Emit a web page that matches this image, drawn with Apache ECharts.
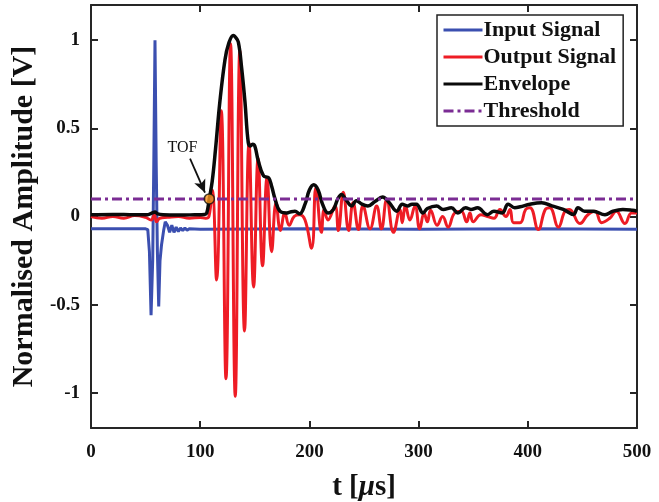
<!DOCTYPE html>
<html><head><meta charset="utf-8">
<script src="https://cdn.jsdelivr.net/npm/echarts@6/dist/echarts.min.js"></script>
<style>html,body{margin:0;padding:0;background:#fff}#c{width:659px;height:502px}</style>
</head><body><div id="c"></div>
<script>
// ---- data (t in microseconds, normalised amplitude in V) ----
const inputSignal = [
  [0,-0.07],[50,-0.07],[52,-0.075],[53.5,-0.2],[55,-0.56],[56.5,-0.25],[57.5,0.3],[58.6,1.0],
  [59.7,0.3],[60.8,-0.2],[62,-0.51],[63.2,-0.25],[64.6,-0.16],[66.5,-0.08],[68,-0.03],[70,-0.05],
  [72,-0.09],[74,-0.05],[76,-0.09],[78,-0.06],[80,-0.085],[82,-0.065],[84,-0.08],[86,-0.065],
  [88,-0.078],[90,-0.07],[100,-0.072],[200,-0.07],[300,-0.072],[400,-0.07],[500,-0.072]
];
const outputSignal = [
  [0,0.0],[10,-0.01],[20,0.0],[30,-0.01],[40,0.005],[50,-0.005],[55,-0.02],[58,0.01],[60,-0.03],
  [63,-0.01],[70,-0.005],[80,0.0],[90,-0.01],[100,-0.005],[105,-0.01],[108,0.0],
  [111,0.15],[115,-0.36],[119.3,0.6],[123.6,-0.92],[127.8,0.98],[132.1,-1.02],[136.3,0.94],
  [140.6,-0.65],[144.7,0.42],[148.9,-0.40],[153,0.33],[157.1,-0.28],[161.2,0.22],[165.4,-0.20],
  [169.5,0.08],[173.5,-0.08],[177.5,0.02],[181.5,-0.05],[186,0.0],[191,0.01],[196,-0.02],
  [202,-0.18],[206,0.165],[211,-0.09],[213.5,0.04],[217,-0.02],[223.4,0.06],[226.5,-0.08],
  [231,0.137],[236,-0.08],[240,0.08],[245,-0.074],[249,0.06],[255.5,-0.07],[261.6,0.06],
  [266,-0.07],[270.8,0.097],[277,-0.09],[283,0.04],[285,-0.035],[288,0.06],[292,-0.02],
  [296.7,0.06],[301,-0.07],[305,0.02],[308,-0.03],[311,0.036],[317,-0.05],[322,0.0],[327,-0.06],
  [333,0.02],[339,0.03],[344,-0.03],[347,0.02],[350,-0.03],[357,0.01],[363,0.0],[369,-0.01],
  [374.5,0.04],[380,0.0],[383.7,0.04],[387,-0.035],[393,-0.035],[398,0.04],[402,0.05],
  [409.6,-0.074],[416,0.04],[420,0.05],[428,-0.06],[434,0.03],[438,0.04],[447.8,-0.04],
  [455,0.01],[461.5,0.03],[467.6,-0.035],[475,-0.01],[481,0.03],[489,-0.04],[495,0.02],[500,0.02]
];
const envelope = [
  [0,0.01],[20,0.012],[40,0.01],[52,0.01],[56,0.02],[58.6,0.025],[61,0.015],[66,0.01],[80,0.008],
  [95,0.01],[104,0.012],[106,0.02],[108.3,0.1],[111,0.2],[114,0.38],[118,0.65],[122.7,0.89],
  [126,0.98],[130.3,1.027],[132,1.02],[134.9,0.99],[138,0.84],[141,0.65],[144,0.42],[146,0.40],
  [148,0.41],[150,0.40],[153,0.32],[158,0.23],[162.7,0.22],[165.5,0.17],[168.5,0.10],[173,0.03],
  [179,0.02],[182,0.025],[186.8,0.03],[191,0.015],[196,0.07],[200,0.15],[204,0.18],[208,0.15],
  [212,0.07],[217,0.02],[222,0.04],[226,0.1],[229.5,0.125],[233,0.1],[238.7,0.06],[243,0.09],
  [248,0.07],[253.6,0.06],[260,0.085],[267,0.11],[273,0.08],[280,0.03],[285,0.07],[290,0.06],
  [294,0.07],[298,0.07],[304,0.02],[308,0.045],[316.5,0.06],[322.5,0.04],[330,0.05],[336,0.02],
  [343,0.05],[348,0.04],[354,0.05],[363,0.01],[369,0.03],[376.5,0.02],[382,0.07],[388,0.05],
  [393,0.055],[402,0.07],[412.7,0.078],[422,0.06],[432.5,0.04],[441.8,0.012],[446,0.05],
  [452,0.03],[460,0.03],[470.7,0.01],[478,0.03],[487,0.04],[496,0.035],[500,0.03]
];
const threshold = [[0,0.1],[500,0.1]];
const tofPoint = [[108.3,0.1]];
const tofLabelAt = [83.8,0.387];
const tofArrow = [[90.7,0.328],[104.4,0.135]];
const seriesNames = ['Input Signal','Output Signal','Envelope','Threshold'];
const xRange = [0,500];
const yRange = [-1.2,1.2];

const FONT = "'Liberation Serif','Times New Roman',serif";
const AX = '#262626';
const chart = echarts.init(document.getElementById('c'), null, {renderer:'canvas'});
const xCommon = {type:'value', min:xRange[0], max:xRange[1], interval:100,
  axisLine:{show:true, onZero:false, lineStyle:{color:AX, width:2}},
  axisTick:{show:true, inside:true, length:7, lineStyle:{color:AX, width:2}},
  splitLine:{show:false}};
const yCommon = {type:'value', min:yRange[0], max:yRange[1], splitNumber:5,
  axisLine:{show:true, onZero:false, lineStyle:{color:AX, width:2}},
  axisTick:{show:true, inside:true, length:7, lineStyle:{color:AX, width:2}},
  splitLine:{show:false}};
chart.setOption({
  animation:false,
  backgroundColor:'#fff',
  grid:{left:91, right:22, top:5, bottom:74, containLabel:false, outerBoundsMode:'none'},
  xAxis:[
    Object.assign({}, xCommon, {position:'bottom', name:'t [{i|μ}s]', nameLocation:'middle', nameGap:45,
      nameTextStyle:{fontFamily:FONT, fontWeight:'bold', fontSize:29, color:'#111',
        rich:{i:{fontFamily:FONT, fontWeight:'bold', fontStyle:'italic', fontSize:29, color:'#111'}}},
      axisLabel:{show:true, margin:15, fontFamily:FONT, fontWeight:'bold', fontSize:19, color:'#111'}}),
    Object.assign({}, xCommon, {position:'top', axisLabel:{show:false}})
  ],
  yAxis:[
    Object.assign({}, yCommon, {position:'left', name:'Normalised Amplitude [V]', nameLocation:'middle', nameGap:50,
      nameTextStyle:{fontFamily:FONT, fontWeight:'bold', fontSize:30, color:'#111'},
      axisLabel:{show:true, margin:11, showMinLabel:false, showMaxLabel:false, fontFamily:FONT, fontWeight:'bold', fontSize:19, color:'#111'}}),
    Object.assign({}, yCommon, {position:'right', axisLabel:{show:false}})
  ],
  legend:{show:true, data:seriesNames, orient:'vertical', left:437, top:15,
    backgroundColor:'#fff', borderColor:'#222', borderWidth:1.5, padding:[4,7,4,5], itemGap:5,
    itemWidth:39, itemHeight:22, itemStyle:{opacity:0}, lineStyle:{width:3},
    textStyle:{fontFamily:FONT, fontWeight:'bold', fontSize:22, color:'#111', padding:[0,0,0,-4]}},
  series:[
    {name:'Input Signal', type:'line', data:inputSignal, symbol:'none', z:2,
      lineStyle:{color:'#3B4FB0', width:3}, itemStyle:{color:'#3B4FB0'}},
    {name:'Output Signal', type:'line', data:outputSignal, symbol:'none', smooth:0.45, z:3,
      lineStyle:{color:'#EE1C25', width:3}, itemStyle:{color:'#EE1C25'}},
    {name:'Envelope', type:'line', data:envelope, symbol:'none', smooth:0.4, z:4,
      lineStyle:{color:'#0a0a0a', width:3.5}, itemStyle:{color:'#0a0a0a'}},
    {name:'Threshold', type:'line', data:threshold, symbol:'none', z:5,
      lineStyle:{color:'#7B2C94', width:3, type:[10,4,3,4]}, itemStyle:{color:'#7B2C94'}},
    {name:'TOF', type:'scatter', data:tofPoint, symbol:'circle', symbolSize:10, z:6,
      itemStyle:{color:'#F7941D', borderColor:'#111', borderWidth:1.5},
      markPoint:{symbol:'circle', symbolSize:0, silent:true,
        data:[{coord:tofLabelAt, label:{show:true, formatter:'TOF', position:'inside', fontFamily:FONT, fontSize:16, color:'#111'}}]},
      markLine:{silent:true, symbol:['none','arrow'], symbolSize:[9,13], label:{show:false},
        lineStyle:{color:'#111', width:1.8, type:'solid'},
        data:[[{coord:tofArrow[0]},{coord:tofArrow[1]}]]}}
  ]
});
</script></body></html>
